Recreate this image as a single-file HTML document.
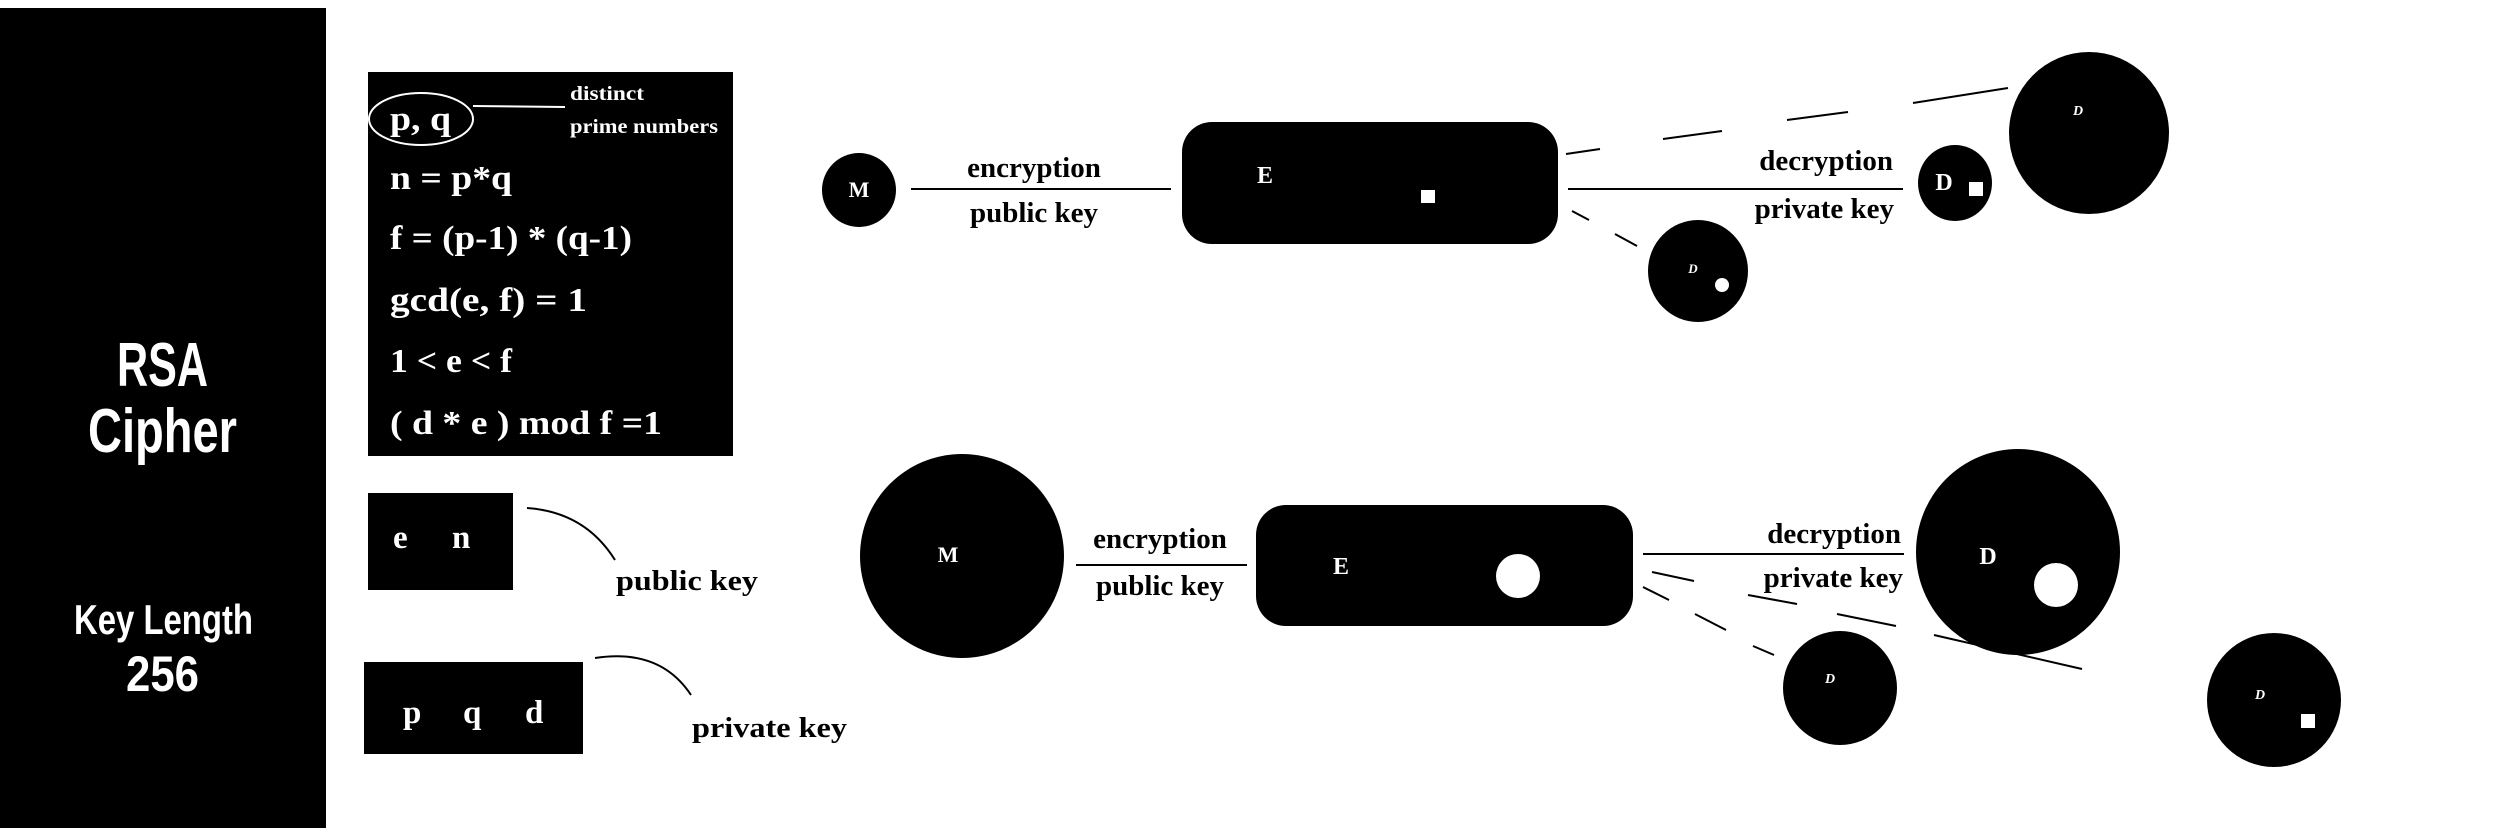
<!DOCTYPE html>
<html><head><meta charset="utf-8"><style>
html,body{margin:0;padding:0;background:#fff;width:2501px;height:834px;overflow:hidden}
svg{display:block}
.s{font-family:"Liberation Serif",serif;font-weight:bold}
.n{font-family:"Liberation Sans",sans-serif;font-weight:bold}
</style></head><body>
<svg width="2501" height="834" viewBox="0 0 2501 834" xmlns="http://www.w3.org/2000/svg">
<rect x="0" y="8" width="326" height="820" fill="#000"/>
<g class="n" fill="#fff">
<text x="117" y="386" font-size="62" textLength="91" lengthAdjust="spacingAndGlyphs">RSA</text>
<text x="88" y="452" font-size="62" textLength="149" lengthAdjust="spacingAndGlyphs">Cipher</text>
<text x="74" y="634" font-size="42" textLength="179" lengthAdjust="spacingAndGlyphs">Key Length</text>
<text x="126" y="691" font-size="50" textLength="73" lengthAdjust="spacingAndGlyphs">256</text>
</g>
<rect x="368" y="72" width="365" height="384" fill="#000"/>
<g class="s" fill="#fff" font-size="34">
<text x="390" y="130" textLength="61" lengthAdjust="spacingAndGlyphs">p, q</text>
<text x="390" y="189" textLength="122" lengthAdjust="spacingAndGlyphs">n = p*q</text>
<text x="390" y="249" textLength="242" lengthAdjust="spacingAndGlyphs">f = (p-1) * (q-1)</text>
<text x="390" y="311" textLength="197" lengthAdjust="spacingAndGlyphs">gcd(e,  f) = 1</text>
<text x="390" y="372" textLength="122" lengthAdjust="spacingAndGlyphs">1 &lt; e &lt; f</text>
<text x="390" y="434" textLength="272" lengthAdjust="spacingAndGlyphs">( d * e ) mod f =1</text>
</g>
<ellipse cx="421" cy="119" rx="52" ry="26" fill="none" stroke="#fff" stroke-width="2"/>
<line x1="473" y1="106" x2="565" y2="107" stroke="#fff" stroke-width="2"/>
<g class="s" fill="#fff" font-size="20">
<text x="570" y="100" textLength="74" lengthAdjust="spacingAndGlyphs">distinct</text>
<text x="570" y="133" textLength="148" lengthAdjust="spacingAndGlyphs">prime numbers</text>
</g>
<rect x="368" y="493" width="145" height="97" fill="#000"/>
<g class="s" fill="#fff" font-size="33"><text x="393" y="548">e</text><text x="452" y="548">n</text></g>
<path d="M527 508 Q585 512 615 560" fill="none" stroke="#000" stroke-width="2"/>
<text class="s" x="616" y="590" font-size="28" textLength="142" lengthAdjust="spacingAndGlyphs">public key</text>
<rect x="364" y="662" width="219" height="92" fill="#000"/>
<g class="s" fill="#fff" font-size="33"><text x="403" y="723">p</text><text x="463" y="723">q</text><text x="525" y="723">d</text></g>
<path d="M595 658 Q660 648 691 695" fill="none" stroke="#000" stroke-width="2"/>
<text class="s" x="692" y="737" font-size="28" textLength="155" lengthAdjust="spacingAndGlyphs">private key</text>

<ellipse cx="859" cy="190" rx="37" ry="37" fill="#000"/>
<text class="s" x="859" y="197" font-size="22" fill="#fff" text-anchor="middle">M</text>
<line x1="911" y1="189" x2="1171" y2="189" stroke="#000" stroke-width="2"/>
<g class="s" font-size="29" text-anchor="middle"><text x="1034" y="177">encryption</text><text x="1034" y="222">public key</text></g>
<rect x="1182" y="122" width="376" height="122" rx="30" fill="#000"/>
<text class="s" x="1265" y="183" font-size="24" fill="#fff" text-anchor="middle">E</text>
<rect x="1421" y="190" width="14" height="13" fill="#fff"/>
<g stroke="#000" stroke-width="2">
<line x1="1566" y1="154" x2="1600" y2="149"/>
<line x1="1663" y1="139" x2="1722" y2="131"/>
<line x1="1787" y1="120" x2="1848" y2="112"/>
<line x1="1913" y1="103" x2="2008" y2="88"/>
<line x1="1568" y1="189" x2="1903" y2="189"/>
<line x1="1572" y1="211" x2="1589" y2="220"/>
<line x1="1615" y1="234" x2="1637" y2="246"/>
</g>
<g class="s" font-size="29" text-anchor="end"><text x="1893" y="170">decryption</text><text x="1894" y="218">private key</text></g>
<ellipse cx="1698" cy="271" rx="50" ry="51" fill="#000"/>
<text class="s" x="1693" y="273" font-size="13" font-style="italic" fill="#fff" text-anchor="middle">D</text>
<ellipse cx="1722" cy="285" rx="7" ry="7" fill="#fff"/>
<ellipse cx="1955" cy="183" rx="37" ry="38" fill="#000"/>
<text class="s" x="1944" y="190" font-size="24" fill="#fff" text-anchor="middle">D</text>
<rect x="1969" y="182" width="14" height="14" fill="#fff"/>
<ellipse cx="2089" cy="133" rx="80" ry="81" fill="#000"/>
<text class="s" x="2078" y="115" font-size="14" font-style="italic" fill="#fff" text-anchor="middle">D</text>

<ellipse cx="962" cy="556" rx="102" ry="102" fill="#000"/>
<text class="s" x="948" y="562" font-size="22" fill="#fff" text-anchor="middle">M</text>
<line x1="1076" y1="565" x2="1247" y2="565" stroke="#000" stroke-width="2"/>
<g class="s" font-size="29" text-anchor="middle"><text x="1160" y="548">encryption</text><text x="1160" y="595">public key</text></g>
<rect x="1256" y="505" width="377" height="121" rx="30" fill="#000"/>
<text class="s" x="1341" y="574" font-size="24" fill="#fff" text-anchor="middle">E</text>
<ellipse cx="1518" cy="576" rx="22" ry="22" fill="#fff"/>
<g stroke="#000" stroke-width="2">
<line x1="1643" y1="554" x2="1904" y2="554"/>
<line x1="1652" y1="572" x2="1694" y2="581"/>
<line x1="1748" y1="595" x2="1797" y2="604"/>
<line x1="1837" y1="614" x2="1896" y2="626"/>
<line x1="1934" y1="635" x2="2082" y2="669"/>
<line x1="1643" y1="587" x2="1669" y2="600"/>
<line x1="1695" y1="614" x2="1726" y2="630"/>
<line x1="1753" y1="646" x2="1774" y2="655"/>
</g>
<g class="s" font-size="29" text-anchor="end"><text x="1901" y="543">decryption</text><text x="1903" y="587">private key</text></g>
<ellipse cx="1840" cy="688" rx="57" ry="57" fill="#000"/>
<text class="s" x="1830" y="683" font-size="14" font-style="italic" fill="#fff" text-anchor="middle">D</text>
<ellipse cx="2018" cy="552" rx="102" ry="103" fill="#000"/>
<text class="s" x="1988" y="564" font-size="24" fill="#fff" text-anchor="middle">D</text>
<ellipse cx="2056" cy="585" rx="22" ry="22" fill="#fff"/>
<ellipse cx="2274" cy="700" rx="67" ry="67" fill="#000"/>
<text class="s" x="2260" y="699" font-size="14" font-style="italic" fill="#fff" text-anchor="middle">D</text>
<rect x="2301" y="714" width="14" height="14" fill="#fff"/>
</svg>
</body></html>
